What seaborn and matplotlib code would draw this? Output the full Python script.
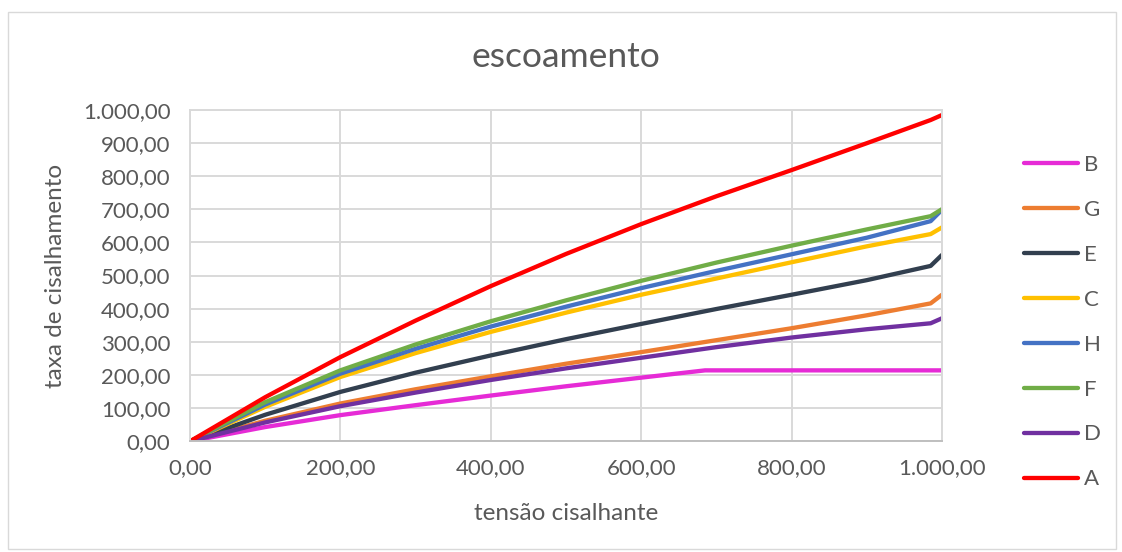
import matplotlib
matplotlib.use("Agg")
import matplotlib.pyplot as plt
from matplotlib.patches import Rectangle
from matplotlib.ticker import FuncFormatter, MultipleLocator
import seaborn as sns
import pandas as pd

# Shear stress (x) and shear rate (y) for each fluid sample
tensao = [0, 100, 200, 300, 400, 500, 600, 700, 800, 900, 985, 1000]
tensao_b = [0, 100, 200, 300, 400, 500, 600, 685, 800, 900, 1000]

serie_b = [0, 43, 79, 109, 138, 166, 192, 214, 214, 214, 214]
serie_g = [0, 62, 114, 157, 196, 234, 269, 305, 341, 380, 416, 442]
serie_e = [0, 80, 149, 207, 259, 308, 354, 399, 442, 486, 529, 562]
serie_c = [0, 104, 194, 266, 330, 388, 442, 491, 540, 588, 625, 645]
serie_h = [0, 111, 204, 279, 346, 406, 462, 514, 564, 614, 664, 698]
serie_f = [0, 118, 214, 292, 362, 425, 484, 539, 590, 639, 679, 700]
serie_d = [0, 57, 106, 147, 185, 220, 252, 284, 313, 338, 356, 371]
serie_a = [0, 133, 254, 364, 468, 565, 655, 739, 818, 899, 969, 984]

nomes = ["B", "G", "E", "C", "H", "F", "D", "A"]
cores = ["#E62BD6", "#ED7D31", "#323F4F", "#FFC000",
         "#4472C4", "#70AD47", "#7030A0", "#FF0000"]

titulo = "escoamento"
rotulo_x = "tensão cisalhante"
rotulo_y = "taxa de cisalhamento"

valores = {"B": serie_b, "G": serie_g, "E": serie_e, "C": serie_c,
           "H": serie_h, "F": serie_f, "D": serie_d, "A": serie_a}

linhas = []
for nome in nomes:
    xs = tensao_b if nome == "B" else tensao
    for x, y in zip(xs, valores[nome]):
        linhas.append({"tensao": x, "taxa": y, "serie": nome})
df = pd.DataFrame(linhas)

sns.set_theme(style="white")
plt.rcParams["font.family"] = ["Lato", "DejaVu Sans"]
texto = "#595959"
grade = "#D9D9D9"

fig = plt.figure(figsize=(11.22, 5.52), dpi=100)
fig.patches.append(Rectangle((0.007, 0.006), 0.988, 0.972, transform=fig.transFigure,
                             fill=False, edgecolor=grade, linewidth=1.0))
ax = fig.add_axes([0.1693, 0.2005, 0.6702, 0.6007])

sns.lineplot(data=df, x="tensao", y="taxa", hue="serie", hue_order=nomes,
             palette=dict(zip(nomes, cores)), linewidth=3.1, sort=False,
             estimator=None, ax=ax, legend=True)
for ln in ax.lines:
    ln.set_solid_joinstyle("round")
    ln.set_solid_capstyle("round")

ax.set_xlim(0, 1000)
ax.set_ylim(0, 1000)
ax.xaxis.set_major_locator(MultipleLocator(200))
ax.yaxis.set_major_locator(MultipleLocator(100))

def fmt_br(v, pos):
    s = f"{v:,.2f}"
    return s.replace(",", "X").replace(".", ",").replace("X", ".")

ax.xaxis.set_major_formatter(FuncFormatter(fmt_br))
ax.yaxis.set_major_formatter(FuncFormatter(fmt_br))
ax.grid(True, color=grade, linewidth=1.4)
ax.set_axisbelow(True)
for s in ax.spines.values():
    s.set_color(grade)
    s.set_linewidth(1.4)
ax.spines["bottom"].set_color("#BFBFBF")
ax.tick_params(axis="y", length=0, labelsize=16, labelcolor=texto, pad=14)
ax.tick_params(axis="x", length=0, labelsize=16, labelcolor=texto, pad=12)

ax.set_xlabel(rotulo_x, fontsize=17.5, color=texto, labelpad=18)
ax.set_ylabel(rotulo_y, fontsize=17.5, color=texto, labelpad=12)
fig.text(0.5045, 0.897, titulo, fontsize=25.5, color=texto, ha="center", va="center")

handles, labels = ax.get_legend_handles_labels()
ax.get_legend().remove()
leg = fig.legend(handles, labels, loc="upper left", bbox_to_anchor=(0.9127, 0.719),
                 frameon=False, fontsize=16, labelcolor=texto,
                 handlelength=2.43, handletextpad=0.25, labelspacing=1.12,
                 borderaxespad=0, borderpad=0)

fig.savefig("out.png", dpi=100)
